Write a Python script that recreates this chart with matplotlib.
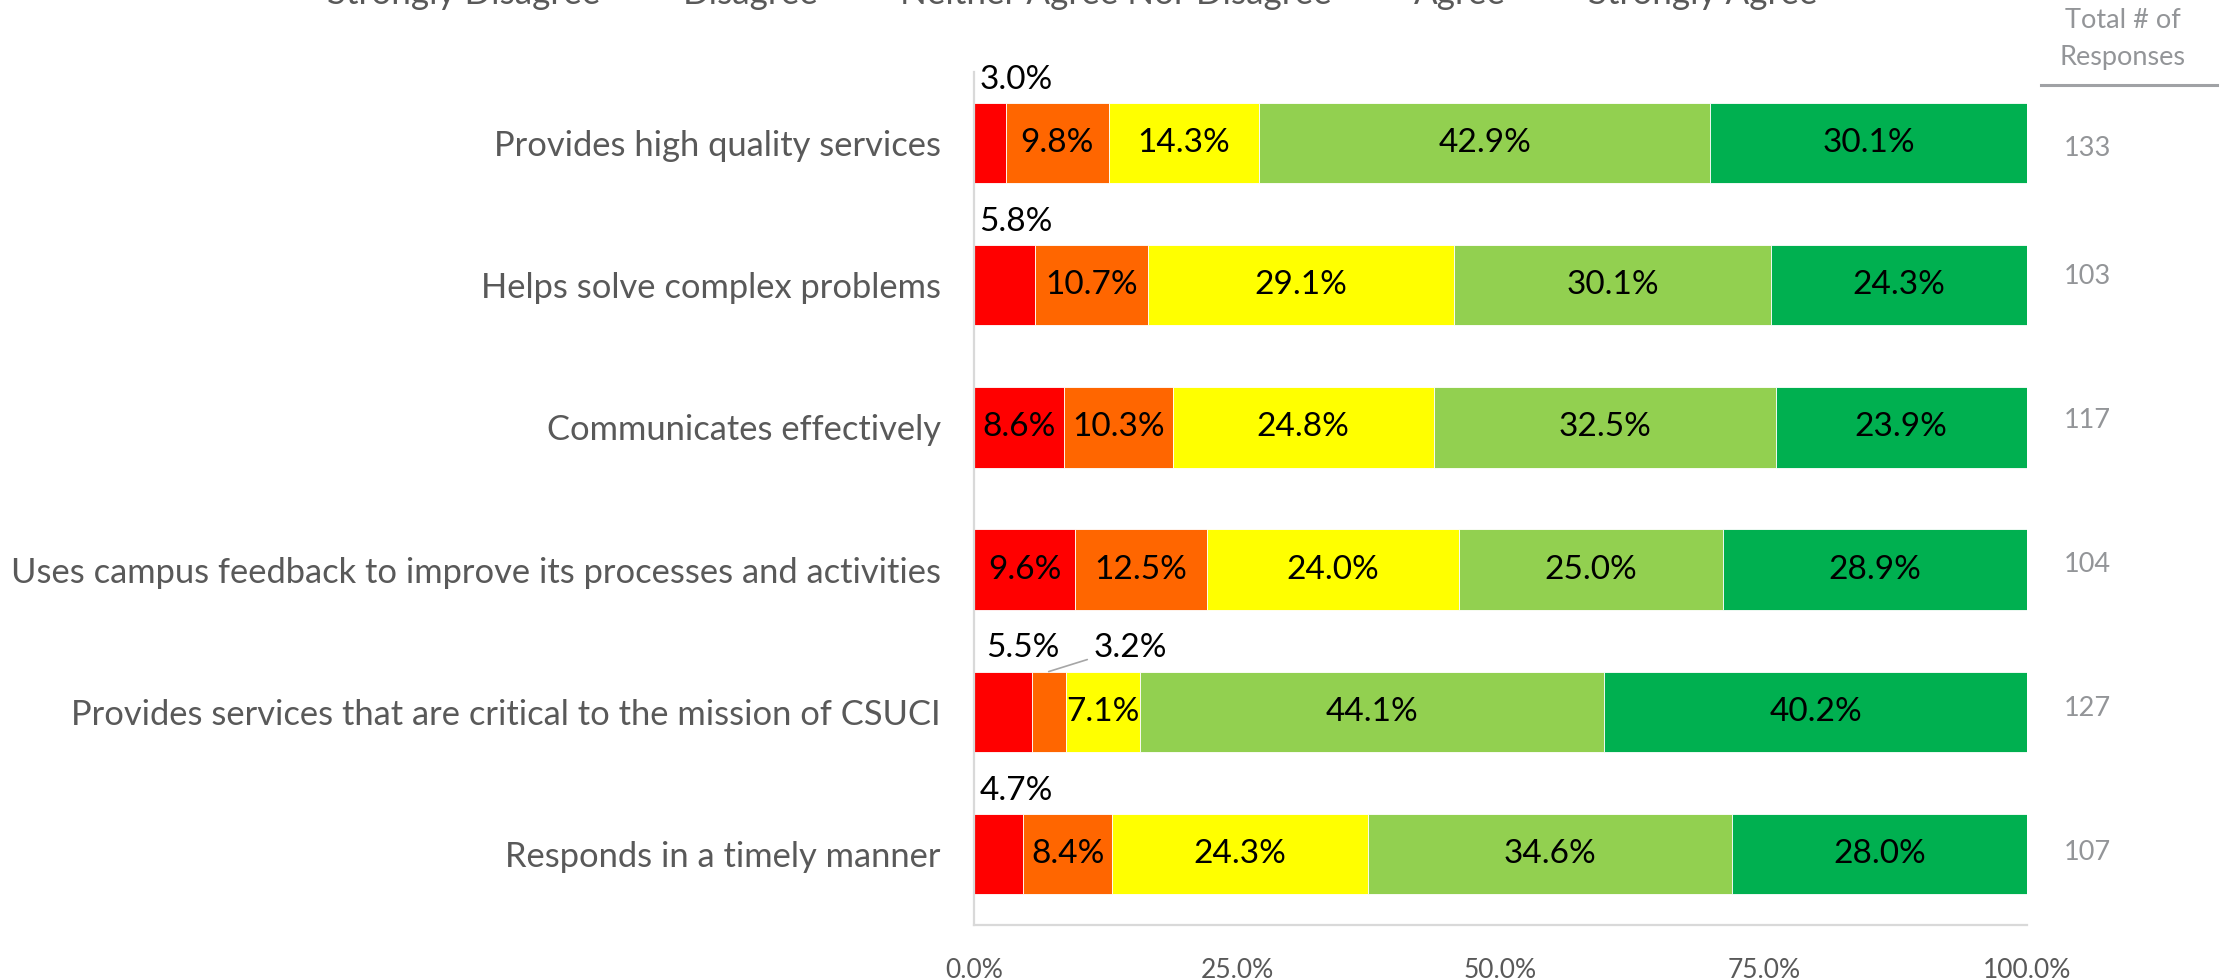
import matplotlib
matplotlib.use("Agg")
import matplotlib.pyplot as plt
from matplotlib.patches import Rectangle
from matplotlib.legend_handler import HandlerPatch
import numpy as np

plt.rcParams['font.family'] = ['Lato', 'DejaVu Sans']

categories = [
    "Provides high quality services",
    "Helps solve complex problems",
    "Communicates effectively",
    "Uses campus feedback to improve its processes and activities",
    "Provides services that are critical to the mission of CSUCI",
    "Responds in a timely manner",
]
series_names = ["Strongly Disagree", "Disagree", "Neither Agree Nor Disagree",
                "Agree", "Strongly Agree"]
strongly_disagree = [3.0, 5.8, 8.6, 9.6, 5.5, 4.7]
disagree = [9.8, 10.7, 10.3, 12.5, 3.2, 8.4]
neither = [14.3, 29.1, 24.8, 24.0, 7.1, 24.3]
agree = [42.9, 30.1, 32.5, 25.0, 44.1, 34.6]
strongly_agree = [30.1, 24.3, 23.9, 28.9, 40.2, 28.0]
totals = [133, 103, 117, 104, 127, 107]
xtick_values = [0, 25, 50, 75, 100]
xtick_labels = ["0.0%", "25.0%", "50.0%", "75.0%", "100.0%"]

colors = ["#FF0000", "#FF6600", "#FFFF00", "#92D050", "#00B050"]
GREY_TXT = "#595959"
LBL_FS = 24

data = np.array([strongly_disagree, disagree, neither, agree, strongly_agree])
row_sums = data.sum(axis=0)
widths = data / row_sums * 100.0  # 100% stacked normalisation

fig = plt.figure(figsize=(22.33, 9.8), dpi=100)
ax = fig.add_axes([974 / 2233, 1 - 925 / 980, 1053 / 2233, (925 - 72) / 980])

y = np.arange(len(categories))
bar_h = 0.565
left = np.zeros(len(categories))
handles = []
for i, name in enumerate(series_names):
    h = ax.barh(y, widths[i], left=left, height=bar_h, color=colors[i],
                edgecolor="white", linewidth=0.6, label=name)
    handles.append(h)
    for r in range(len(categories)):
        val = data[i][r]
        txt = f"{val:.1f}%"
        cx = left[r] + widths[i][r] / 2
        if i == 0 and val < 7:
            # label placed above the bar
            dx = 1.2 if r == 4 else 0.5
            ax.text(left[r] + dx, r - 0.445, txt, ha="left", va="center",
                    fontsize=LBL_FS, color="black")
        elif i == 1 and val < 5:
            ax.annotate(txt, xy=(cx, r - bar_h / 2), xytext=(11.4, r - 0.445),
                        ha="left", va="center", fontsize=LBL_FS, color="black",
                        arrowprops=dict(arrowstyle="-", color="#A6A6A6", lw=1.2,
                                        shrinkA=3, shrinkB=0,
                                        connectionstyle="arc,angleA=180,angleB=0,armA=8,armB=0,rad=0"),
                        )
        else:
            ax.text(cx, r, txt, ha="center", va="center", fontsize=LBL_FS, color="black")
    left = left + widths[i]

ax.set_ylim(len(categories) - 0.5, -0.5)
ax.set_xlim(0, 100)
ax.set_yticks(y)
ax.set_yticklabels(categories, fontsize=24.8, color=GREY_TXT)
ax.set_xticks(xtick_values)
ax.set_xticklabels(xtick_labels, fontsize=19, color=GREY_TXT)
ax.tick_params(axis="y", length=0, pad=24)
ax.tick_params(axis="x", length=0, pad=24)
for s in ["top", "right"]:
    ax.spines[s].set_visible(False)
for s in ["left", "bottom"]:
    ax.spines[s].set_color("#D9D9D9")
    ax.spines[s].set_linewidth(1.6)

# Right-hand "Total # of Responses" column
rx = 2064 / 2233
fig.text(2123 / 2233, 1 - 20 / 980, "Total # of", ha="center", va="center",
         fontsize=19.5, color="#939598")
fig.text(2123 / 2233, 1 - 57 / 980, "Responses", ha="center", va="center",
         fontsize=19.5, color="#939598")
fig.add_artist(plt.Line2D([2041 / 2233, 2217 / 2233], [1 - 85 / 980, 1 - 85 / 980],
                          color="#A0A2A5", lw=2.2, transform=fig.transFigure))
total_y_px = [148, 276, 420, 564, 708, 852]
for t, ypx in zip(totals, total_y_px):
    fig.text(rx, 1 - ypx / 980, str(t), ha="left", va="center",
             fontsize=19.5, color="#939598")


# Legend (partly cut at the top edge); square markers centred on the text
def square_marker(legend, orig_handle, xdescent, ydescent, width, height, fontsize):
    s = 0.55 * fontsize
    return Rectangle((-xdescent + (width - s) / 2, -ydescent + 0.42 * fontsize), s, s)


leg_handles = [Rectangle((0, 0), 1, 1, color=c) for c in colors]
fig.legend(handles=leg_handles, labels=series_names, loc="center",
           bbox_to_anchor=(0.470, 1.006), ncol=5, frameon=False,
           fontsize=25.2, labelcolor=GREY_TXT, handlelength=0.7, handleheight=0.7,
           columnspacing=1.05, handletextpad=0.6,
           handler_map={Rectangle: HandlerPatch(patch_func=square_marker)})

fig.savefig("out.png", dpi=100)
